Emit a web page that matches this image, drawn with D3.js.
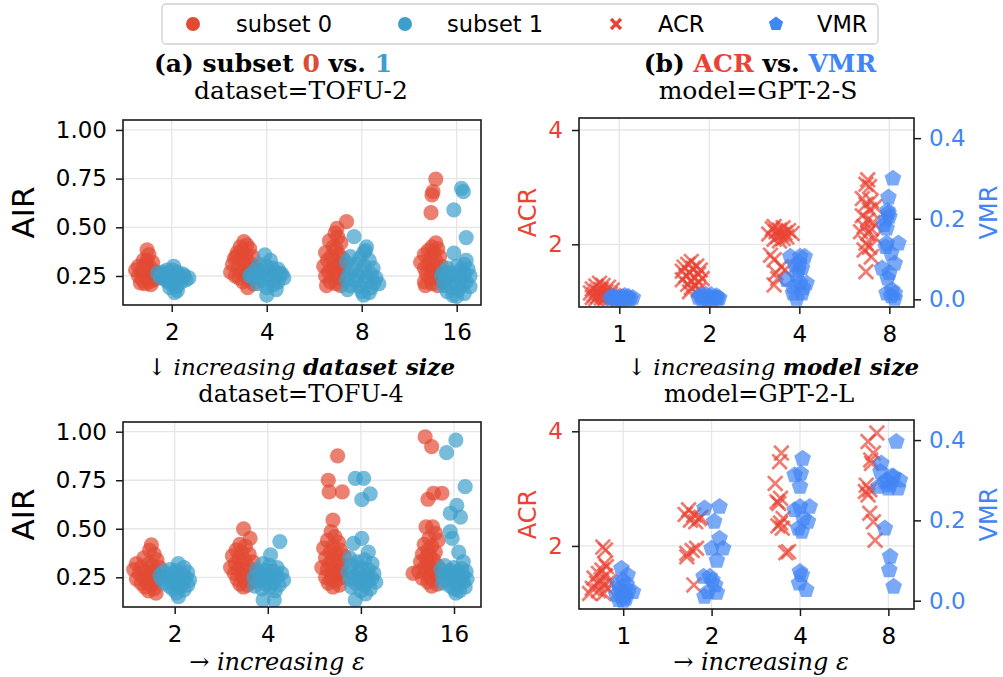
<!DOCTYPE html>
<html>
<head>
<meta charset="utf-8">
<script src="https://cdn.jsdelivr.net/npm/d3@7"></script>
<style>
  body { margin: 0; background: #fff; }
  svg { display: block; }
  .tick text { font-family: "DejaVu Sans", sans-serif; }
</style>
</head>
<body>
<script>
const w = 1003;
const h = 677;

// categories and tick labels
const datasetGroups = ["2", "4", "8", "16"];
const modelGroups = ["1", "2", "4", "8"];
const airTicks = [0.25, 0.50, 0.75, 1.00];
const acrTicks = [2, 4];
const vmrTicks = [0.0, 0.2, 0.4];

// each group: list of [jitter (category units, from tick), value]
const tofu2Subset0 = [
    [[-0.26,0.384],[-0.24,0.36],[-0.30,0.33],[-0.20,0.32],[-0.35,0.30],[-0.27,0.31],[-0.22,0.29],[-0.38,0.28],[-0.32,0.27],[-0.25,0.28],[-0.17,0.27],[-0.29,0.26],[-0.35,0.25],[-0.21,0.25],[-0.14,0.26],[-0.27,0.24],[-0.31,0.23],[-0.19,0.23],[-0.24,0.22],[-0.28,0.21],[-0.22,0.205],[-0.33,0.215],[-0.16,0.24],[-0.26,0.33],[-0.30,0.29]],
    [[-0.24,0.426],[-0.21,0.41],[-0.28,0.40],[-0.18,0.39],[-0.26,0.38],[-0.31,0.37],[-0.22,0.36],[-0.15,0.35],[-0.34,0.34],[-0.27,0.33],[-0.19,0.32],[-0.36,0.31],[-0.24,0.31],[-0.12,0.30],[-0.30,0.29],[-0.20,0.28],[-0.38,0.27],[-0.26,0.27],[-0.16,0.26],[-0.33,0.25],[-0.22,0.25],[-0.29,0.24],[-0.18,0.23],[-0.25,0.22],[-0.14,0.21],[-0.20,0.19],[-0.32,0.35],[-0.10,0.28]],
    [[-0.16,0.529],[-0.26,0.495],[-0.28,0.47],[-0.25,0.45],[-0.34,0.43],[-0.22,0.42],[-0.30,0.40],[-0.27,0.39],[-0.38,0.37],[-0.24,0.36],[-0.32,0.35],[-0.20,0.34],[-0.36,0.33],[-0.28,0.32],[-0.22,0.31],[-0.40,0.30],[-0.31,0.29],[-0.25,0.28],[-0.35,0.27],[-0.19,0.27],[-0.29,0.26],[-0.38,0.25],[-0.24,0.24],[-0.33,0.22],[-0.27,0.21],[-0.37,0.20],[-0.22,0.20]],
    [[-0.22,0.748],[-0.25,0.683],[-0.26,0.666],[-0.27,0.575],[-0.22,0.42],[-0.26,0.40],[-0.20,0.39],[-0.30,0.38],[-0.24,0.37],[-0.34,0.36],[-0.18,0.35],[-0.28,0.34],[-0.22,0.33],[-0.38,0.32],[-0.30,0.31],[-0.24,0.30],[-0.16,0.30],[-0.34,0.29],[-0.26,0.28],[-0.20,0.27],[-0.32,0.26],[-0.24,0.25],[-0.28,0.24],[-0.18,0.23],[-0.34,0.22],[-0.26,0.21],[-0.33,0.20],[-0.20,0.20],[-0.14,0.22]]
];
const tofu2Subset1 = [
    [[-0.15,0.265],[-0.10,0.27],[-0.05,0.28],[0.02,0.30],[0.06,0.27],[0.12,0.26],[0.18,0.24],[-0.08,0.25],[0.00,0.25],[0.08,0.24],[-0.12,0.24],[0.04,0.23],[-0.04,0.22],[0.10,0.22],[0.15,0.23],[0.00,0.21],[0.05,0.195],[-0.02,0.19],[0.06,0.175],[0.03,0.165],[-0.09,0.26],[0.13,0.25],[0.01,0.28],[-0.06,0.23]],
    [[-0.02,0.358],[0.04,0.33],[-0.08,0.31],[0.00,0.30],[0.06,0.29],[0.12,0.285],[-0.12,0.28],[-0.04,0.27],[0.08,0.27],[0.16,0.26],[-0.16,0.26],[0.02,0.255],[-0.08,0.25],[0.10,0.245],[0.18,0.24],[-0.14,0.24],[0.04,0.23],[-0.04,0.225],[0.12,0.22],[0.07,0.205],[-0.10,0.21],[0.00,0.19],[0.10,0.18],[0.00,0.152],[0.14,0.265],[-0.18,0.25]],
    [[-0.08,0.452],[0.05,0.40],[0.04,0.38],[0.02,0.37],[-0.12,0.35],[-0.02,0.34],[0.08,0.33],[-0.16,0.32],[-0.06,0.31],[0.03,0.30],[0.12,0.29],[-0.10,0.28],[0.00,0.27],[0.10,0.26],[-0.14,0.255],[-0.04,0.25],[0.06,0.245],[0.15,0.24],[-0.16,0.23],[-0.06,0.225],[0.04,0.22],[0.13,0.215],[-0.12,0.20],[-0.02,0.195],[0.10,0.19],[0.18,0.21],[-0.15,0.18],[0.00,0.17],[0.02,0.152],[0.08,0.165]],
    [[0.05,0.70],[0.07,0.683],[-0.03,0.589],[0.10,0.447],[-0.03,0.367],[0.10,0.33],[0.08,0.31],[0.00,0.30],[-0.10,0.29],[0.12,0.285],[0.04,0.28],[-0.14,0.27],[-0.06,0.265],[0.08,0.26],[0.00,0.255],[-0.16,0.25],[0.14,0.25],[-0.08,0.24],[0.04,0.235],[-0.12,0.225],[0.10,0.22],[-0.02,0.215],[0.06,0.205],[-0.14,0.20],[0.14,0.195],[-0.06,0.19],[0.02,0.18],[-0.10,0.17],[0.08,0.16],[-0.04,0.15],[0.00,0.145]]
];
const tofu4Subset0 = [
    [[-0.25,0.417],[-0.27,0.39],[-0.22,0.37],[-0.33,0.35],[-0.19,0.34],[-0.41,0.32],[-0.28,0.32],[-0.36,0.30],[-0.24,0.31],[-0.16,0.30],[-0.44,0.29],[-0.31,0.28],[-0.22,0.28],[-0.38,0.27],[-0.28,0.26],[-0.18,0.26],[-0.34,0.25],[-0.25,0.245],[-0.41,0.24],[-0.20,0.235],[-0.30,0.225],[-0.36,0.22],[-0.25,0.21],[-0.32,0.20],[-0.22,0.19],[-0.28,0.18],[-0.20,0.168]],
    [[-0.26,0.50],[-0.19,0.45],[-0.30,0.42],[-0.24,0.41],[-0.34,0.39],[-0.28,0.38],[-0.20,0.37],[-0.38,0.36],[-0.31,0.35],[-0.25,0.34],[-0.16,0.33],[-0.35,0.32],[-0.28,0.31],[-0.21,0.30],[-0.40,0.30],[-0.32,0.29],[-0.24,0.28],[-0.15,0.28],[-0.36,0.27],[-0.28,0.26],[-0.20,0.25],[-0.33,0.24],[-0.25,0.235],[-0.17,0.225],[-0.30,0.215],[-0.26,0.20],[-0.22,0.21]],
    [[-0.25,0.875],[-0.35,0.75],[-0.34,0.69],[-0.20,0.69],[-0.30,0.545],[-0.32,0.485],[-0.28,0.46],[-0.36,0.44],[-0.24,0.43],[-0.30,0.41],[-0.40,0.40],[-0.22,0.39],[-0.33,0.38],[-0.27,0.37],[-0.18,0.36],[-0.38,0.35],[-0.30,0.34],[-0.24,0.33],[-0.34,0.32],[-0.20,0.31],[-0.42,0.30],[-0.28,0.30],[-0.36,0.29],[-0.22,0.28],[-0.31,0.27],[-0.26,0.26],[-0.38,0.25],[-0.20,0.25],[-0.32,0.24],[-0.27,0.23],[-0.35,0.22],[-0.23,0.21],[-0.30,0.20]],
    [[-0.31,0.974],[-0.24,0.923],[-0.22,0.683],[-0.13,0.683],[-0.28,0.652],[-0.30,0.51],[-0.23,0.51],[-0.20,0.477],[-0.27,0.45],[-0.17,0.44],[-0.32,0.42],[-0.24,0.41],[-0.28,0.39],[-0.20,0.38],[-0.34,0.37],[-0.26,0.36],[-0.30,0.35],[-0.22,0.34],[-0.36,0.33],[-0.28,0.32],[-0.18,0.31],[-0.32,0.30],[-0.24,0.29],[-0.44,0.27],[-0.38,0.28],[-0.30,0.27],[-0.20,0.265],[-0.26,0.25],[-0.34,0.245],[-0.22,0.235],[-0.28,0.225],[-0.18,0.215],[-0.24,0.205]]
];
const tofu4Subset1 = [
    [[0.04,0.32],[0.10,0.30],[-0.05,0.29],[0.02,0.285],[-0.12,0.28],[0.14,0.275],[-0.02,0.27],[0.08,0.265],[-0.16,0.26],[0.00,0.255],[0.12,0.25],[-0.08,0.25],[0.05,0.245],[-0.14,0.24],[0.16,0.235],[-0.02,0.23],[0.09,0.225],[-0.10,0.22],[0.02,0.215],[0.14,0.21],[-0.06,0.205],[0.06,0.20],[-0.02,0.19],[0.10,0.185],[0.02,0.17],[0.04,0.15]],
    [[0.13,0.434],[0.03,0.365],[-0.05,0.32],[0.02,0.31],[0.10,0.30],[-0.12,0.29],[-0.02,0.285],[0.06,0.28],[0.15,0.27],[-0.08,0.265],[0.00,0.26],[0.10,0.255],[-0.15,0.25],[0.04,0.245],[-0.04,0.24],[0.17,0.235],[-0.10,0.23],[0.06,0.225],[-0.02,0.215],[0.12,0.21],[-0.14,0.205],[0.02,0.20],[-0.06,0.19],[0.08,0.18],[-0.05,0.134],[0.07,0.134]],
    [[-0.06,0.76],[0.03,0.76],[0.10,0.68],[0.01,0.65],[0.01,0.45],[-0.08,0.425],[0.08,0.38],[-0.12,0.35],[0.04,0.34],[-0.04,0.33],[0.12,0.32],[-0.10,0.31],[0.00,0.30],[0.08,0.29],[-0.14,0.28],[-0.02,0.275],[0.14,0.27],[0.06,0.26],[-0.08,0.255],[0.02,0.25],[0.12,0.245],[-0.12,0.24],[-0.02,0.235],[0.08,0.23],[0.16,0.225],[-0.06,0.22],[0.04,0.21],[-0.10,0.20],[0.10,0.19],[0.00,0.18],[0.05,0.165],[-0.06,0.134]],
    [[0.02,0.957],[-0.08,0.892],[0.12,0.717],[0.03,0.62],[-0.04,0.58],[0.07,0.56],[-0.04,0.485],[-0.02,0.45],[0.05,0.38],[0.10,0.33],[-0.10,0.31],[0.00,0.30],[0.08,0.295],[-0.14,0.29],[-0.04,0.285],[0.13,0.28],[0.04,0.275],[-0.08,0.27],[0.00,0.265],[0.10,0.26],[-0.12,0.255],[0.06,0.25],[-0.02,0.245],[0.14,0.24],[-0.08,0.235],[0.02,0.23],[0.10,0.225],[-0.12,0.22],[0.05,0.21],[-0.04,0.205],[0.12,0.20],[0.00,0.19],[0.06,0.18],[0.02,0.168]]
];
const gpt2sACR = [
    [[-0.22,1.32],[-0.18,1.28],[-0.26,1.27],[-0.12,1.25],[-0.30,1.22],[-0.20,1.21],[-0.08,1.20],[-0.25,1.18],[-0.15,1.17],[-0.32,1.15],[-0.22,1.14],[-0.10,1.13],[-0.28,1.12],[-0.18,1.11],[-0.06,1.10],[-0.24,1.09],[-0.14,1.08],[-0.30,1.07],[-0.20,1.06],[-0.10,1.06],[-0.26,1.05],[-0.16,1.05]],
    [[-0.20,1.70],[-0.24,1.65],[-0.14,1.62],[-0.28,1.60],[-0.18,1.58],[-0.10,1.55],[-0.30,1.53],[-0.22,1.50],[-0.12,1.48],[-0.26,1.45],[-0.16,1.42],[-0.08,1.40],[-0.30,1.38],[-0.20,1.36],[-0.12,1.33],[-0.24,1.30],[-0.16,1.28],[-0.20,1.24],[-0.12,1.20],[-0.22,1.17]],
    [[-0.28,2.31],[-0.18,2.29],[-0.30,2.27],[-0.22,2.25],[-0.12,2.24],[-0.26,2.22],[-0.16,2.20],[-0.08,2.19],[-0.34,2.18],[-0.20,2.17],[-0.24,2.14],[-0.14,2.13],[-0.18,2.10],[-0.28,2.09],[-0.22,2.06],[-0.32,1.81],[-0.28,1.73],[-0.20,1.61],[-0.16,1.55],[-0.26,1.50],[-0.24,1.40],[-0.28,1.29]],
    [[-0.24,3.13],[-0.26,3.05],[-0.22,3.01],[-0.30,2.80],[-0.20,2.76],[-0.26,2.70],[-0.16,2.66],[-0.22,2.60],[-0.30,2.50],[-0.24,2.43],[-0.18,2.38],[-0.28,2.31],[-0.20,2.27],[-0.32,2.22],[-0.24,2.19],[-0.16,2.12],[-0.26,2.02],[-0.22,1.95],[-0.28,1.90],[-0.20,1.78],[-0.26,1.52]]
];
const gpt2sVMR = [
    [[-0.08,0.008],[-0.02,0.005],[0.04,0.006],[0.10,0.007],[0.15,0.004],[-0.05,0.003],[0.01,0.002],[0.07,0.003],[0.12,0.001],[-0.10,0.002],[0.03,0.000],[0.09,0.001],[-0.03,0.000],[0.06,0.009]],
    [[-0.10,0.010],[-0.04,0.012],[0.02,0.011],[0.08,0.008],[-0.12,0.004],[-0.06,0.005],[0.00,0.006],[0.06,0.004],[0.11,0.003],[-0.08,0.000],[-0.02,0.001],[0.04,0.000],[0.09,0.002]],
    [[-0.10,0.106],[0.06,0.106],[0.01,0.106],[-0.05,0.085],[-0.01,0.073],[0.03,0.078],[-0.14,0.048],[0.01,0.040],[0.08,0.040],[-0.07,0.031],[0.04,0.028],[-0.07,0.015],[0.03,0.015],[-0.03,0.002],[0.00,0.090],[-0.03,0.060]],
    [[0.04,0.300],[-0.01,0.253],[-0.02,0.220],[-0.01,0.214],[0.00,0.205],[-0.04,0.197],[-0.06,0.185],[-0.03,0.176],[-0.03,0.139],[0.10,0.139],[-0.04,0.130],[0.02,0.114],[0.06,0.089],[-0.08,0.077],[0.00,0.065],[-0.02,0.052],[0.03,0.023],[-0.03,0.015],[0.06,0.015],[0.06,0.002],[0.02,0.008]]
];
const gpt2lACR = [
    [[-0.23,1.98],[-0.20,1.93],[-0.21,1.69],[-0.19,1.64],[-0.24,1.58],[-0.28,1.52],[-0.20,1.48],[-0.33,1.44],[-0.25,1.41],[-0.16,1.38],[-0.30,1.35],[-0.22,1.32],[-0.35,1.26],[-0.18,1.26],[-0.28,1.22],[-0.38,1.17],[-0.22,1.17]],
    [[-0.26,2.63],[-0.30,2.55],[-0.20,2.54],[-0.14,2.48],[-0.24,2.45],[-0.18,2.42],[-0.12,2.50],[-0.17,1.96],[-0.22,1.92],[-0.28,1.87],[-0.28,1.81],[-0.20,1.32]],
    [[-0.21,3.62],[-0.23,3.47],[-0.28,3.09],[-0.22,2.83],[-0.26,2.77],[-0.24,2.74],[-0.19,2.48],[-0.22,2.40],[-0.25,2.35],[-0.20,2.31],[-0.13,1.90],[-0.16,1.88]],
    [[-0.13,3.97],[-0.23,3.82],[-0.17,3.62],[-0.19,3.44],[-0.25,3.06],[-0.21,2.98],[-0.23,2.89],[-0.21,2.57],[-0.17,2.42],[-0.15,2.10],[-0.20,3.50],[-0.26,2.95]]
];
const gpt2lVMR = [
    [[-0.02,0.080],[0.05,0.064],[0.00,0.050],[-0.06,0.043],[0.04,0.040],[0.11,0.022],[-0.04,0.030],[0.00,0.020],[0.06,0.025],[-0.08,0.015],[-0.02,0.010],[0.03,0.005],[-0.05,0.002],[0.00,0.000],[0.02,0.012]],
    [[0.09,0.234],[-0.08,0.230],[0.03,0.197],[0.09,0.155],[0.00,0.130],[0.13,0.130],[0.06,0.100],[-0.09,0.060],[0.01,0.051],[0.04,0.039],[-0.04,0.022],[-0.08,0.010],[-0.02,0.060],[0.06,0.020]],
    [[0.03,0.354],[-0.06,0.313],[0.01,0.317],[0.00,0.284],[0.00,0.234],[0.11,0.234],[-0.06,0.226],[0.09,0.197],[-0.02,0.180],[0.02,0.172],[0.04,0.205],[0.00,0.072],[0.02,0.064],[-0.01,0.043],[0.07,0.027]],
    [[0.09,0.396],[-0.08,0.342],[-0.09,0.321],[0.06,0.309],[-0.02,0.300],[0.13,0.300],[0.02,0.288],[-0.11,0.284],[0.00,0.280],[0.11,0.280],[0.04,0.310],[-0.04,0.295],[-0.04,0.180],[0.02,0.110],[0.01,0.076],[0.06,0.035]]
];

const red0 = "#e24a33";
const blue1 = "#3d9fcb";
const acrColor = "#ea4335";
const vmrColor = "#4285f4";
const serif = "'DejaVu Serif', serif";
const sans = "'DejaVu Sans', sans-serif";

const svg = d3.select("body").append("svg").attr("width", w).attr("height", h);

function pentagonPath(r) {
    let pts = [];
    for (let i = 0; i < 5; i++) {
        let a = -Math.PI / 2 + i * 2 * Math.PI / 5;
        pts.push([r * Math.cos(a), r * Math.sin(a)]);
    }
    return "M" + pts.map(p => p.join(",")).join("L") + "Z";
}

function crossPath(s) {
    return "M" + (-s) + "," + (-s) + "L" + s + "," + s + "M" + (-s) + "," + s + "L" + s + "," + (-s);
}

function flatten(groups) {
    let out = [];
    groups.forEach(function (g, i) {
        g.forEach(function (d) { out.push({ x: i + d[0], v: d[1] }); });
    });
    return out;
}

function styleAxis(g, color) {
    g.select(".domain").remove();
    g.selectAll(".tick line").attr("stroke", "#1a1a1a").attr("stroke-width", 1.5);
    g.selectAll(".tick text").attr("fill", color).style("font-size", "23px");
}

function makePanel(id, box, xDomain, yDomain, cats) {
    const xScale = d3.scaleLinear().domain(xDomain).range([box.left, box.right]);
    const yScale = d3.scaleLinear().domain(yDomain).range([box.bottom, box.top]);
    svg.append("clipPath").attr("id", id)
        .append("rect")
        .attr("x", box.left).attr("y", box.top)
        .attr("width", box.right - box.left).attr("height", box.bottom - box.top);
    const g = svg.append("g");
    // grid
    g.selectAll(".vgrid").data(d3.range(cats.length)).enter().append("line")
        .attr("x1", d => xScale(d)).attr("x2", d => xScale(d))
        .attr("y1", box.top).attr("y2", box.bottom)
        .attr("stroke", "#e6e6e6").attr("stroke-width", 1.3);
    const xAxis = d3.axisBottom(xScale).tickValues(d3.range(cats.length))
        .tickFormat(i => cats[i]).tickSize(7).tickPadding(12);
    g.append("g").attr("transform", "translate(0," + box.bottom + ")")
        .call(xAxis).call(a => styleAxis(a, "#000"));
    return { g: g, x: xScale, y: yScale, box: box, clip: id };
}

function hgrid(p, scale, ticks) {
    p.g.selectAll(null).data(ticks).enter().append("line")
        .attr("x1", p.box.left).attr("x2", p.box.right)
        .attr("y1", d => scale(d)).attr("y2", d => scale(d))
        .attr("stroke", "#e6e6e6").attr("stroke-width", 1.3);
}

function frame(p) {
    p.g.append("rect")
        .attr("x", p.box.left).attr("y", p.box.top)
        .attr("width", p.box.right - p.box.left).attr("height", p.box.bottom - p.box.top)
        .attr("fill", "none").attr("stroke", "#1a1a1a").attr("stroke-width", 1.6);
}

function drawCircles(p, groups, color) {
    p.g.append("g").attr("clip-path", "url(#" + p.clip + ")")
        .selectAll("circle").data(flatten(groups)).enter().append("circle")
        .attr("cx", d => p.x(d.x)).attr("cy", d => p.y(d.v))
        .attr("r", 7.6).attr("fill", color).attr("fill-opacity", 0.7);
}

function drawCrosses(p, groups, scale, color) {
    p.g.append("g").attr("clip-path", "url(#" + p.clip + ")")
        .selectAll("path").data(flatten(groups)).enter().append("path")
        .attr("d", crossPath(7.3))
        .attr("transform", d => "translate(" + p.x(d.x) + "," + scale(d.v) + ")")
        .attr("fill", "none").attr("stroke", color).attr("stroke-width", 2.7)
        .attr("stroke-opacity", 0.7);
}

function drawPentagons(p, groups, scale, color) {
    p.g.append("g").attr("clip-path", "url(#" + p.clip + ")")
        .selectAll("path").data(flatten(groups)).enter().append("path")
        .attr("d", pentagonPath(8.8))
        .attr("transform", d => "translate(" + p.x(d.x) + "," + scale(d.v) + ")")
        .attr("fill", color).attr("fill-opacity", 0.7);
}

function airPanel(id, box, xDomain, yDomain, s0, s1) {
    const p = makePanel(id, box, xDomain, yDomain, datasetGroups);
    hgrid(p, p.y, airTicks);
    p.g.append("g").attr("transform", "translate(" + box.left + ",0)")
        .call(d3.axisLeft(p.y).tickValues(airTicks).tickFormat(d3.format(".2f")).tickSize(7).tickPadding(9))
        .call(a => styleAxis(a, "#000"));
    drawCircles(p, s0, red0);
    drawCircles(p, s1, blue1);
    frame(p);
    svg.append("text")
        .attr("transform", "translate(34," + (box.top + box.bottom) / 2 + ") rotate(-90)")
        .attr("text-anchor", "middle")
        .style("font-family", sans).style("font-size", "31px")
        .text("AIR");
}

function ratioPanel(id, box, xDomain, acrDomain, vmrDomain, acr, vmr) {
    const p = makePanel(id, box, xDomain, acrDomain, modelGroups);
    const vScale = d3.scaleLinear().domain(vmrDomain).range([box.bottom, box.top]);
    hgrid(p, p.y, acrTicks);
    p.g.append("g").attr("transform", "translate(" + box.left + ",0)")
        .call(d3.axisLeft(p.y).tickValues(acrTicks).tickFormat(d3.format("d")).tickSize(7).tickPadding(9))
        .call(a => styleAxis(a, acrColor));
    p.g.append("g").attr("transform", "translate(" + box.right + ",0)")
        .call(d3.axisRight(vScale).tickValues(vmrTicks).tickFormat(d3.format(".1f")).tickSize(7).tickPadding(8))
        .call(a => styleAxis(a, vmrColor));
    drawCrosses(p, acr, p.y, acrColor);
    drawPentagons(p, vmr, vScale, vmrColor);
    frame(p);
    svg.append("text")
        .attr("transform", "translate(536," + (box.top + box.bottom) / 2 + ") rotate(-90)")
        .attr("text-anchor", "middle").attr("fill", acrColor)
        .style("font-family", sans).style("font-size", "24px")
        .text("ACR");
    svg.append("text")
        .attr("transform", "translate(997," + (box.top + box.bottom) / 2 + ") rotate(-90)")
        .attr("text-anchor", "middle").attr("fill", vmrColor)
        .style("font-family", sans).style("font-size", "24px")
        .text("VMR");
}

airPanel("clipA1", { left: 123, top: 120, right: 481, bottom: 305 }, [-0.513, 3.256], [0.101, 1.051], tofu2Subset0, tofu2Subset1);
airPanel("clipA2", { left: 123, top: 422, right: 481, bottom: 607 }, [-0.555, 3.29], [0.097, 1.05], tofu4Subset0, tofu4Subset1);
ratioPanel("clipB1", { left: 579, top: 118, right: 914, bottom: 307 }, [-0.448, 3.274], [0.903, 4.21], [-0.019, 0.45], gpt2sACR, gpt2sVMR);
ratioPanel("clipB2", { left: 579, top: 420, right: 914, bottom: 609 }, [-0.50, 3.29], [0.90, 4.197], [-0.0207, 0.45], gpt2lACR, gpt2lVMR);

// titles and annotations
function richText(x, y, size, parts) {
    const t = svg.append("text").attr("x", x).attr("y", y).attr("text-anchor", "middle")
        .style("font-family", serif).style("font-size", size + "px");
    parts.forEach(function (p) {
        const s = t.append("tspan").text(p[0]);
        if (p[1]) s.attr("fill", p[1]);
        if (p[2]) s.style("font-weight", "bold");
        if (p[3]) s.style("font-style", "italic");
    });
    return t;
}

richText(273, 72, 25, [["(a) subset ", null, true], ["0", red0, true], [" vs. ", null, true], ["1", blue1, true]]);
richText(301, 99, 25, [["dataset=TOFU-2"]]);
richText(760, 72, 25, [["(b) ", null, true], ["ACR", acrColor, true], [" vs. ", null, true], ["VMR", vmrColor, true]]);
richText(758, 99, 25, [["model=GPT-2-S"]]);
richText(301, 375, 23, [["\u2193 "], ["increasing ", null, false, true], ["dataset size", null, true, true]]);
richText(301, 402, 24, [["dataset=TOFU-4"]]);
richText(773, 375, 23, [["\u2193 "], ["increasing ", null, false, true], ["model size", null, true, true]]);
richText(759, 402, 24, [["model=GPT-2-L"]]);
richText(277, 670, 24, [["\u2192 "], ["increasing \u03b5", null, false, true]]);
richText(761, 670, 24, [["\u2192 "], ["increasing \u03b5", null, false, true]]);

// legend
const legendItems = [
    { label: "subset 0", kind: "circle", color: red0, mx: 193, tx: 236 },
    { label: "subset 1", kind: "circle", color: blue1, mx: 405, tx: 447 },
    { label: "ACR", kind: "cross", color: acrColor, mx: 616, tx: 658 },
    { label: "VMR", kind: "pentagon", color: vmrColor, mx: 776, tx: 817 }
];
const legend = svg.append("g");
legend.append("rect").attr("x", 162).attr("y", 4).attr("width", 716).attr("height", 40)
    .attr("rx", 4).attr("fill", "#fff").attr("stroke", "#d0d0d0").attr("stroke-width", 1.3);
legendItems.forEach(function (d) {
    const y = 24;
    if (d.kind === "circle") {
        legend.append("circle").attr("cx", d.mx).attr("cy", y).attr("r", 7).attr("fill", d.color);
    } else if (d.kind === "cross") {
        legend.append("path").attr("d", crossPath(5)).attr("transform", "translate(" + d.mx + "," + y + ")")
            .attr("stroke", d.color).attr("stroke-width", 3.2).attr("fill", "none");
    } else {
        legend.append("path").attr("d", pentagonPath(7.5)).attr("transform", "translate(" + d.mx + "," + y + ")")
            .attr("fill", d.color);
    }
    legend.append("text").attr("x", d.tx).attr("y", 32)
        .style("font-family", sans).style("font-size", "22.5px")
        .text(d.label);
});
</script>
</body>
</html>
